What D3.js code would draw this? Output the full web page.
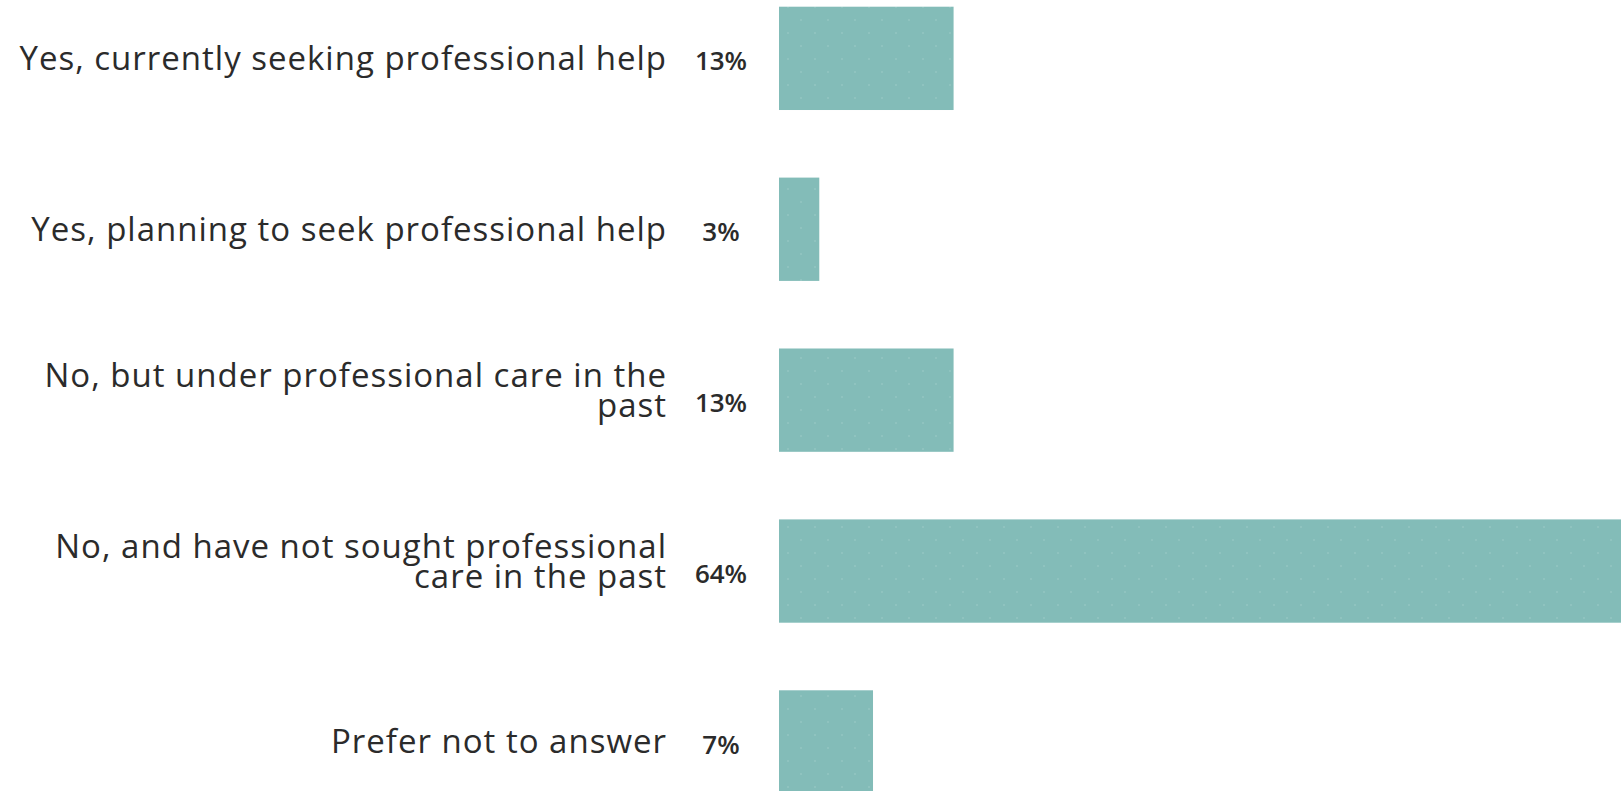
<!DOCTYPE html>
<html>
<head>
<meta charset="utf-8">
<script src="https://cdn.jsdelivr.net/npm/d3@7"></script>
<style>
  html, body { margin: 0; padding: 0; background: #ffffff; overflow: hidden; }
  svg { display: block; }
</style>
</head>
<body>
<svg id="chart" width="1621" height="791"></svg>
<script>
const categories = [
  "Yes, currently seeking professional help",
  "Yes, planning to seek professional help",
  "No, but under professional care in the\npast",
  "No, and have not sought professional\ncare in the past",
  "Prefer not to answer"
];
const values = [13, 3, 13, 64, 7];
const valueLabels = ["13%", "3%", "13%", "64%", "7%"];

const svg = d3.select("#chart");

const x = d3.scaleLinear().domain([0, 64]).range([779, 1638.5]);
const y = d3.scaleBand().domain(categories).range([6.7, 793.6]).paddingInner(0.3955).paddingOuter(0);

// subtle dotted texture
const defs = svg.append("defs");
const pat = defs.append("pattern").attr("id", "dots").attr("patternUnits", "userSpaceOnUse")
  .attr("width", 27).attr("height", 26);
pat.append("rect").attr("width", 27).attr("height", 26).attr("fill", "#83bcb8");
pat.append("circle").attr("cx", 5).attr("cy", 7).attr("r", 0.8).attr("fill", "#9fcdc9");
pat.append("circle").attr("cx", 18).attr("cy", 20).attr("r", 0.8).attr("fill", "#9fcdc9");

svg.append("g").selectAll("rect").data(categories).join("rect")
  .attr("x", x(0))
  .attr("y", d => y(d))
  .attr("width", (d, i) => x(values[i]) - x(0))
  .attr("height", y.bandwidth())
  .attr("fill", "url(#dots)");

const labelX = 667;
const lineH = 30;
const labels = svg.append("g")
  .attr("font-family", "'Open Sans', Lato, sans-serif")
  .attr("font-size", 33)
  .attr("letter-spacing", 1.0)
  .attr("fill", "#2b2b2b")
  .attr("text-anchor", "end");

categories.forEach((c, i) => {
  const lines = c.split("\n");
  const cy = y(c) + y.bandwidth() / 2;
  const first = cy + 11.5 - (lines.length - 1) * 25;
  const t = labels.append("text").attr("x", labelX);
  lines.forEach((ln, j) => {
    t.append("tspan")
      .attr("x", labelX)
      .attr("y", first + j * lineH)
      .text(ln);
  });
});

svg.append("g")
  .attr("font-family", "'Open Sans', Lato, sans-serif")
  .attr("font-size", 26)
  .attr("font-weight", 600)
  .attr("fill", "#2b2b2b")
  .attr("text-anchor", "middle")
  .selectAll("text").data(categories).join("text")
  .attr("x", 721)
  .attr("y", d => y(d) + y.bandwidth() / 2 + 12)
  .text((d, i) => valueLabels[i]);
</script>
</body>
</html>
